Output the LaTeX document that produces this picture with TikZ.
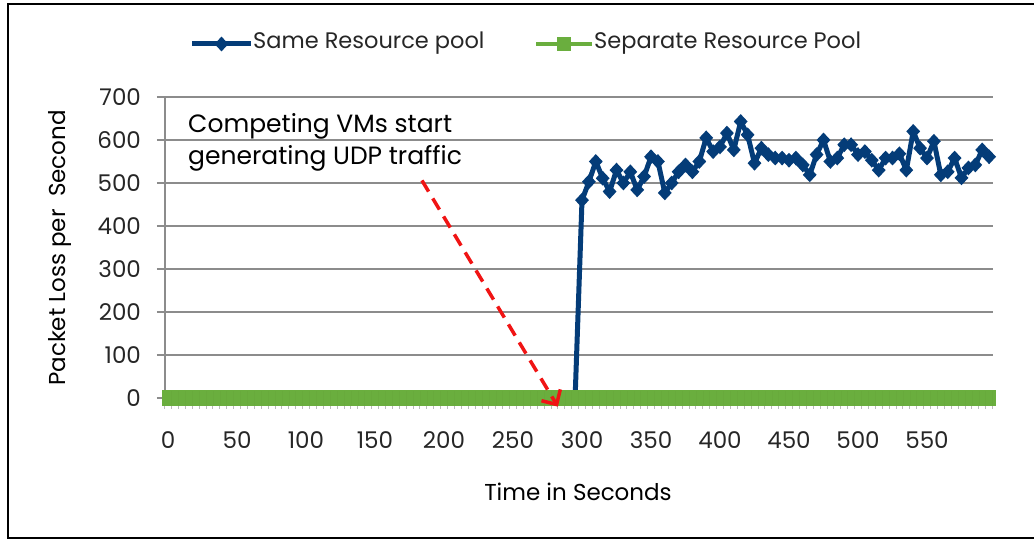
\documentclass[tikz,border=0pt]{standalone}
\usepackage{fontspec}
\setmainfont{Poppins}
\usetikzlibrary{arrows.meta,shapes.geometric}
\definecolor{navy}{RGB}{4,60,120}
\definecolor{leaf}{RGB}{106,174,62}
\definecolor{gridgray}{RGB}{140,140,140}
\definecolor{arrowred}{RGB}{240,20,20}
\tikzset{
  frame/.style={line width=1.6pt, black},
  gridline/.style={gridgray, line width=1.3pt},
  ticktext/.style={font=\fontsize{23}{26}\selectfont, text=black!85, inner sep=0pt},
  titletext/.style={font=\fontsize{23}{26}\selectfont, text=black, inner sep=0pt},
  notetext/.style={font=\fontsize{25}{30}\selectfont, text=black, inner sep=0pt, anchor=base west},
  legendtext/.style={font=\fontsize{22.5}{26}\selectfont, text=black!85, inner sep=0pt, anchor=west},
  sameline/.style={navy, line width=5pt, line join=round},
  samemark/.style={diamond, fill=navy, draw=none, inner sep=0pt, minimum width=14pt, minimum height=15pt},
  sepline/.style={leaf, line width=4.5pt},
  redarrow/.style={arrowred, line width=3.5pt, dash pattern=on 13pt off 8pt, -{Straight Barb[length=11pt,width=22pt,line width=3.5pt]}},
}
\def\samedata{300/460,305/503,310/550,315/511,320/480,325/530,330/500,335/526,340/484,345/515,350/561,355/550,360/477,365/500,370/526,375/542,380/526,385/550,390/605,395/573,400/584,405/616,410/577,415/643,420/612,425/546,430/581,435/566,440/558,445/558,450/553,455/558,460/542,465/519,470/566,475/600,480/550,485/558,490/589,495/589,500/566,505/573,510/553,515/530,520/558,525/558,530/568,535/530,540/620,545/581,550/558,555/597,560/519,565/526,570/558,575/512,580/535,585/542,590/577,595/561}
\begin{document}
\begin{tikzpicture}[x=1pt,y=1pt]
\useasboundingbox (0,0) rectangle (1034,540);
% outer frame (open at the right edge)
\draw[frame] (1036,536) -- (8,536) -- (8,2) -- (1036,2);

% legend
\coordinate (lgA1) at (192,496);
\coordinate (lgA2) at (251,496);
\draw[sameline] (lgA1) -- (lgA2);
\node[samemark] (lgAm) at (221.5,496) {};
\node[legendtext] (lgAt) at (253,497) {Same Resource pool};
\coordinate (lgB1) at (536,496);
\coordinate (lgB2) at (592,496);
\draw[sepline] (lgB1) -- (lgB2);
\node[fill=leaf, inner sep=0pt, minimum size=14pt] (lgBm) at (564,496) {};
\node[legendtext] (lgBt) at (594,497) {Separate Resource Pool};

% plot area in data coordinates
\begin{scope}[shift={(168,142)}, x=1.38pt, y=0.43pt]
  \foreach \v in {100,200,...,700} {
    \draw[gridline] (-8,\v) -- (598,\v);
  }
  \draw[gridline] (-8,0) -- (-2.2,0);
  \draw[gridline] (-2.2,0) -- (-2.2,700);
  \foreach \v in {0,100,...,700} {
    \node[ticktext, anchor=east] (yl\v) at (-19.5,\v) {\v};
  }
  \foreach \t in {0,50,...,550} {
    \node[ticktext] (xl\t) at (\t,-97) {\t};
  }
  % minor category ticks
  \foreach \t in {0,5,...,600} {
    \draw[gridgray!60, line width=0.8pt] (\t-2.5,0) -- (\t-2.5,-26);
  }
  % Same resource pool series
  \draw[sameline] (295,0) \foreach \t/\v in \samedata { -- (\t,\v) };
  \foreach \t/\v in \samedata {
    \node[samemark] (s\t) at (\t,\v) {};
  }
  % Separate resource pool series
  \draw[leaf, line width=16pt] (-4.3,0) -- (600,0);
  \foreach \t in {0,5,...,595} {
    \draw[leaf!85!black, line width=0.4pt, opacity=0.12] (\t+2.5,-17) -- (\t+2.5,17);
  }
  % annotation arrow
  \coordinate (astart) at (184,506);
  \coordinate (aend) at (282.5,-20);
\end{scope}
\draw[redarrow] (astart) -- (aend);

% annotation text
\node[notetext] (note1) at (188,407) {Competing VMs start};
\node[notetext] (note2) at (188,375) {generating UDP traffic};

% axis titles
\node[titletext, rotate=90] (ytitle) at (60,292) {Packet Loss per\ \ Second};
\node[titletext] (xtitle) at (578,48) {Time in Seconds};
\end{tikzpicture}
\end{document}
